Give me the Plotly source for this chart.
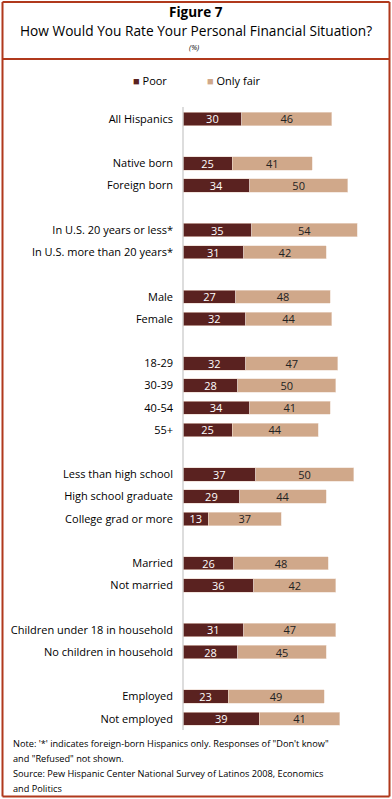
import plotly.graph_objects as go

categories = ["All Hispanics", "Native born", "Foreign born",
              "In U.S. 20 years or less*", "In U.S. more than 20 years*",
              "Male", "Female", "18-29", "30-39", "40-54", "55+",
              "Less than high school", "High school graduate", "College grad or more",
              "Married", "Not married",
              "Children under 18 in household", "No children in household",
              "Employed", "Not employed"]
slots = [0, 2, 3, 5, 6, 8, 9, 11, 12, 13, 14, 16, 17, 18, 20, 21, 23, 24, 26, 27]
poor = [30, 25, 34, 35, 31, 27, 32, 32, 28, 34, 25, 37, 29, 13, 26, 36, 31, 28, 23, 39]
only_fair = [46, 41, 50, 54, 42, 48, 44, 47, 50, 41, 44, 50, 44, 37, 48, 42, 47, 45, 49, 41]
series_names = ["Poor", "Only fair"]
series_colors = ["#5A2220", "#D0A88A"]
note_lines = ["Note: '*' indicates foreign-born Hispanics only. Responses of \"Don't know\"",
              "and \"Refused\" not shown.",
              "Source: Pew Hispanic Center National Survey of Latinos 2008, Economics",
              "and Politics"]

W, H = 392, 799
L, R, T, B = 183, 379, 103, 731
FONT = "Open Sans"
BORDER = "#B0391C"

def px(x):
    return (x - L) / (R - L)

def py(y):
    return (B - y) / (B - T)

fig = go.Figure()
fig.add_trace(go.Bar(
    y=slots, x=poor, orientation="h", name=series_names[0],
    marker=dict(color=series_colors[0], line=dict(color="#E9D4C8", width=0.6)),
    text=poor, textposition="inside", insidetextanchor="middle", textangle=0,
    textfont=dict(color="white", size=11, family=FONT), width=0.6,
))
fig.add_trace(go.Bar(
    y=slots, x=only_fair, orientation="h", name=series_names[1],
    marker=dict(color=series_colors[1], line=dict(color="#EEDDD2", width=0.6)),
    text=only_fair, textposition="inside", insidetextanchor="middle", textangle=0,
    textfont=dict(color="#222222", size=11, family=FONT), width=0.6,
))

def pline(x0, y0, x1, y1, color, width):
    return dict(type="line", xref="paper", yref="paper", x0=px(x0), x1=px(x1),
                y0=py(y0), y1=py(y1), line=dict(color=color, width=width), layer="above")

shapes = [
    pline(2.5, 2, 2.5, 796.5, BORDER, 2),
    pline(389.5, 2, 389.5, 796.5, BORDER, 2),
    pline(2.5, 2, 389.5, 2, BORDER, 2),
    pline(2.5, 796.5, 389.5, 796.5, BORDER, 2),
    pline(2.5, 59, 389.5, 59, BORDER, 2),
    pline(183, 107, 183, 730, "#BBBBBB", 1),
]

def ann(text, x, y, size, xanchor="center", **kw):
    return dict(text=text, x=px(x), y=py(y), xref="paper", yref="paper",
                xanchor=xanchor, yanchor="middle", showarrow=False,
                font=dict(size=size, family=FONT, color="black"), **kw)

annotations = [
    ann("<b>Figure 7</b>", 196, 12, 13.5, borderpad=0),
    ann("How Would You Rate Your Personal Financial Situation?", 196, 30.5, 13.7, borderpad=0),
    ann("<i>(%)</i>", 194, 47, 7.5),
    ann(f"<span style='color:{series_colors[0]}'>■</span> {series_names[0]}", 131, 80, 11, xanchor="left"),
    ann(f"<span style='color:{series_colors[1]}'>■</span> {series_names[1]}", 205, 80, 11, xanchor="left"),
]
for i, line in enumerate(note_lines):
    annotations.append(ann(line, 11, 743 + 15 * i, 9.2, xanchor="left", align="left"))

fig.update_layout(
    width=W, height=H, barmode="stack",
    margin=dict(l=L, r=W - R, t=T, b=H - B, pad=0),
    paper_bgcolor="white", plot_bgcolor="white",
    font=dict(family=FONT, size=11, color="black"),
    showlegend=False,
    uniformtext=dict(minsize=11, mode="show"),
    shapes=shapes, annotations=annotations,
)
fig.update_xaxes(range=[0, 100], showgrid=False, zeroline=False, showticklabels=False,
                 showline=False, fixedrange=True)
fig.update_yaxes(range=[27.55, -0.72], tickvals=slots, ticktext=categories,
                 showgrid=False, zeroline=False, showline=False, ticks="",
                 ticklabelstandoff=9, tickfont=dict(size=11, family=FONT, color="black"),
                 fixedrange=True)

fig.write_html("out.html", config={"displayModeBar": False},
               post_script="document.body.style.margin='0';document.body.style.overflow='hidden';")
